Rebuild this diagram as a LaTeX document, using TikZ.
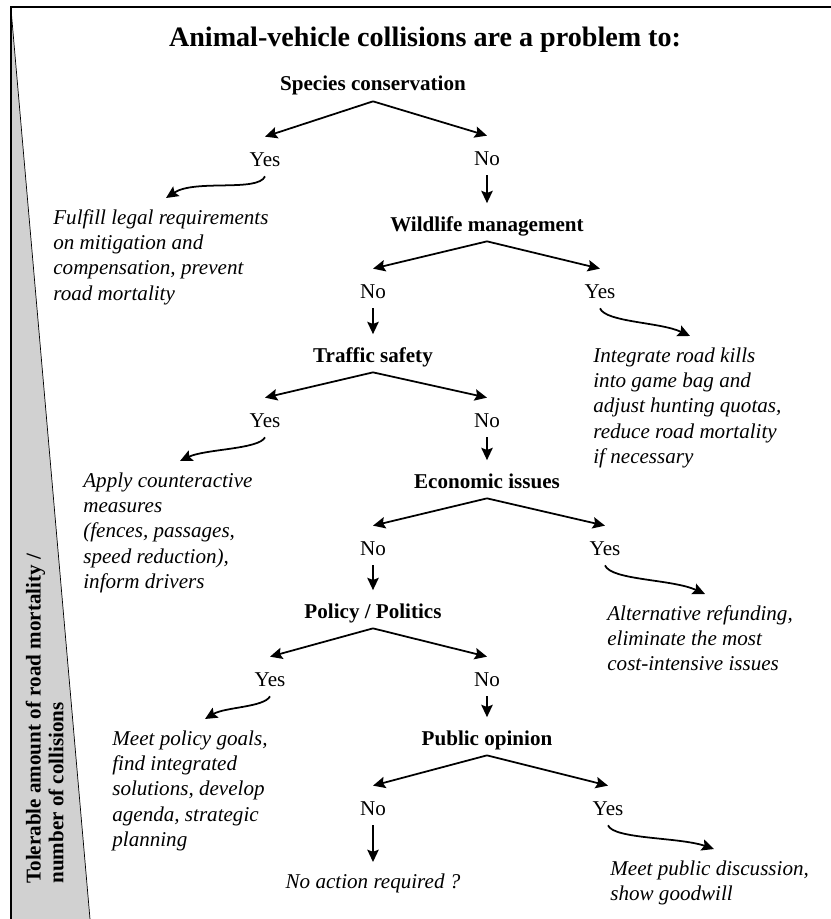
\documentclass[tikz,border=0pt]{standalone}
\usepackage{fontspec}
\setmainfont{Liberation Serif}
\usetikzlibrary{arrows.meta,calc}

\begin{document}
\begin{tikzpicture}[x=0.02cm,y=-0.02cm,
  arr/.style={->,>={Stealth[length=7pt,width=6.5pt,inset=1.2pt]},line width=1pt},
  head/.style={font=\fontsize{12}{14.4}\selectfont\bfseries,inner sep=0pt,anchor=base,text height=0.55cm,text depth=0.2cm},
  yn/.style={font=\fontsize{12}{14.4}\selectfont,inner sep=0pt,anchor=base,text height=0.58cm,text depth=0.2cm},
  act/.style={font=\fontsize{12}{14.4}\selectfont\itshape,align=left,inner sep=0pt,outer ysep=0.23cm,anchor=north west}]

\useasboundingbox (0,0) rectangle (831,919);

\fill[black!18] (11,9)--(90,919)--(11,919)--cycle; %くさび
\draw[thin] (11,9)--(90,919);
\draw[line width=0.9pt] (11,919)--(11,7)--(831,7); %枠
\node[rotate=90,anchor=south west,align=left,inner sep=0pt,font=\fontsize{12}{13}\selectfont\bfseries] (tol) at (64,884) {Tolerable amount of road mortality /\\number of collisions};

\node[anchor=base,inner sep=0pt,font=\fontsize{16}{19}\selectfont\bfseries] (title) at (425,47) {Animal-vehicle collisions are a problem to:};

% Species conservation
\node[head] (sc) at (373,91) {Species conservation};
\node[yn] (y1) at (265,166) {Yes};
\node[yn] (n1) at (487,165) {No};
\draw[arr] (sc.south)--(y1.north);
\draw[arr] (sc.south)--(n1.north);
\node[act] (ful) at (53,198) {Fulfill legal requirements\\on mitigation and\\compensation, prevent\\road mortality};
\draw[arr] (y1.south) .. controls +(-7,16) and +(29,-19) .. ($(ful.north west)+(113,0)$);

% Wildlife management
\node[head] (wm) at (487,231) {Wildlife management};
\draw[arr] (n1.south)--(wm.north);
\node[yn] (n2) at (373,298) {No};
\node[yn] (y2) at (600,298) {Yes};
\draw[arr] (wm.south)--(n2.north);
\draw[arr] (wm.south)--(y2.north);
\node[act] (integ) at (593,336) {Integrate road kills\\into game bag and\\adjust hunting quotas,\\reduce road mortality\\if necessary};
\draw[arr] (y2.south) .. controls +(6,14) and +(-30,-14) .. ($(integ.north west)+(97,0)$);

% Traffic safety
\node[head] (ts) at (373,362) {Traffic safety};
\draw[arr] (n2.south)--(ts.north);
\node[yn] (y3) at (265,427) {Yes};
\node[yn] (n3) at (487,427) {No};
\draw[arr] (ts.south)--(y3.north);
\draw[arr] (ts.south)--(n3.north);
\node[act] (apply) at (83,461) {Apply counteractive\\measures\\(fences, passages,\\speed reduction),\\inform drivers};
\draw[arr] (y3.south) .. controls +(-6,12) and +(25,-12) .. ($(apply.north west)+(97,0)$);

% Economic issues
\node[head] (ei) at (487,488) {Economic issues};
\draw[arr] (n3.south)--(ei.north);
\node[yn] (n4) at (373,555) {No};
\node[yn] (y4) at (605,555) {Yes};
\draw[arr] (ei.south)--(n4.north);
\draw[arr] (ei.south)--(y4.north);
\node[act] (alt) at (607,594) {Alternative refunding,\\eliminate the most\\cost-intensive issues};
\draw[arr] (y4.south) .. controls +(6,15) and +(-33,-15) .. ($(alt.north west)+(98,0)$);

% Policy / Politics
\node[head] (pp) at (373,618) {Policy / Politics};
\draw[arr] (n4.south)--(pp.north);
\node[yn] (y5) at (270,686) {Yes};
\node[yn] (n5) at (487,686) {No};
\draw[arr] (pp.south)--(y5.north);
\draw[arr] (pp.south)--(n5.north);
\node[act] (mp) at (112,719) {Meet policy goals,\\find integrated\\solutions, develop\\agenda, strategic\\planning};
\draw[arr] (y5.south) .. controls +(-6,11) and +(20,-12) .. ($(mp.north west)+(93,0)$);

% Public opinion
\node[head] (po) at (487,745) {Public opinion};
\draw[arr] (n5.south)--(po.north);
\node[yn] (n6) at (373,815) {No};
\node[yn] (y6) at (608,815) {Yes};
\draw[arr] (po.south)--(n6.north);
\draw[arr] (po.south)--(y6.north);
\node[act,anchor=north] (noact) at (373,862) {No action required ?};
\draw[arr] (n6.south)--(noact.north);
\node[act] (pub) at (610,849) {Meet public discussion,\\show goodwill};
\draw[arr] (y6.south) .. controls +(6,14) and +(-35,-12) .. ($(pub.north west)+(104,0)$);

\end{tikzpicture}
\end{document}
